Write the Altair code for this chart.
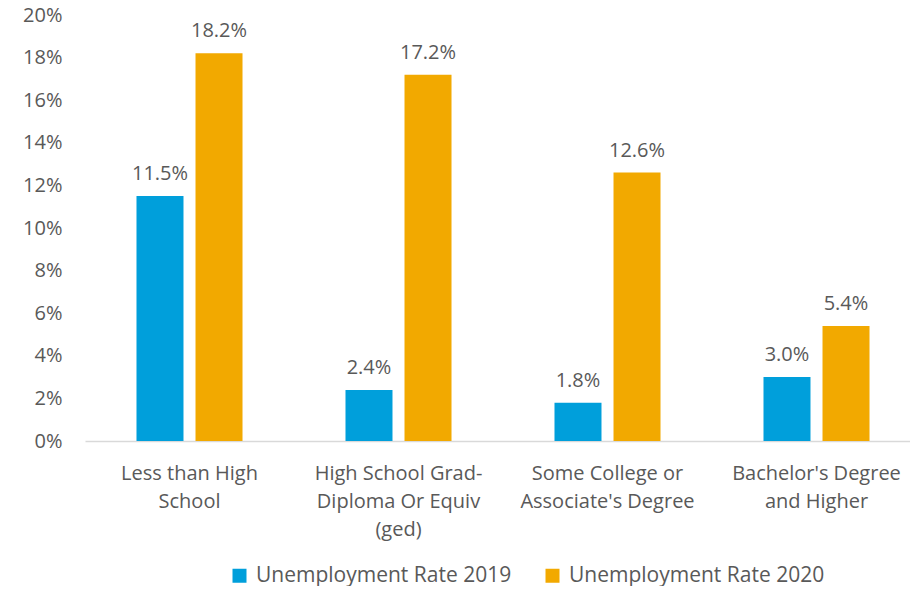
import altair as alt
import pandas as pd

categories = [
    "Less than High\nSchool",
    "High School Grad-\nDiploma Or Equiv\n(ged)",
    "Some College or\nAssociate's Degree",
    "Bachelor's Degree\nand Higher",
]
series = ["Unemployment Rate 2019", "Unemployment Rate 2020"]
rate_2019 = [0.115, 0.024, 0.018, 0.030]
rate_2020 = [0.182, 0.172, 0.126, 0.054]
colors = ["#009FDB", "#F2A900"]

rows = []
for i, c in enumerate(categories):
    rows.append({"category": c, "series": series[0], "value": rate_2019[i]})
    rows.append({"category": c, "series": series[1], "value": rate_2020[i]})
df = pd.DataFrame(rows)

FONT = "Open Sans"
GREY = "#595959"
FS = 20

x = alt.X(
    "category:N",
    sort=categories,
    title=None,
    scale=alt.Scale(paddingInner=0, paddingOuter=0, range=[0, 836]),
    axis=alt.Axis(
        labelAngle=0,
        labelExpr="split(datum.label, '\\n')",
        labelLineHeight=28,
        labelPadding=22,
        labelFont=FONT,
        labelFontSize=FS,
        labelColor=GREY,
        ticks=False,
        domainColor="#D9D9D9",
        domainWidth=1.5,
        labelLimit=300,
    ),
)
xo = alt.XOffset(
    "series:N",
    sort=series,
    scale=alt.Scale(paddingInner=0.203, paddingOuter=0.872),
)
y = alt.Y(
    "value:Q",
    title=None,
    scale=alt.Scale(domain=[0, 0.2], nice=False),
    axis=alt.Axis(
        format=".0%",
        values=[i / 100 for i in range(0, 21, 2)],
        grid=False,
        domain=False,
        ticks=False,
        labelPadding=23,
        labelFont=FONT,
        labelFontSize=FS,
        labelColor=GREY,
    ),
)
color = alt.Color(
    "series:N",
    sort=series,
    scale=alt.Scale(domain=series, range=colors),
    legend=alt.Legend(
        title=None,
        orient="none",
        legendX=144,
        legendY=550,
        direction="horizontal",
        columns=2,
        columnPadding=30,
        symbolType="square",
        symbolSize=196,
        symbolStrokeWidth=0,
        labelOffset=6,
        labelFont=FONT,
        labelFontSize=21,
        labelColor=GREY,
        labelLimit=400,
    ),
)

base = alt.Chart(df).encode(x=x, xOffset=xo, y=y)
bars = base.mark_bar(size=47).encode(color=color)
text = base.mark_text(
    baseline="bottom", dy=-12, font=FONT, fontSize=FS, color=GREY
).encode(text=alt.Text("value:Q", format=".1%"))

chart = (
    (bars + text)
    .properties(
        width=825,
        height=426,
        background="white",
        autosize=alt.AutoSizeParams(type="none"),
        padding={"left": 77, "top": 7, "right": 0, "bottom": 145},
    )
    .configure_view(strokeWidth=0, stroke="transparent")
)

chart.save("out.html", embed_options={"renderer": "svg", "actions": False})
